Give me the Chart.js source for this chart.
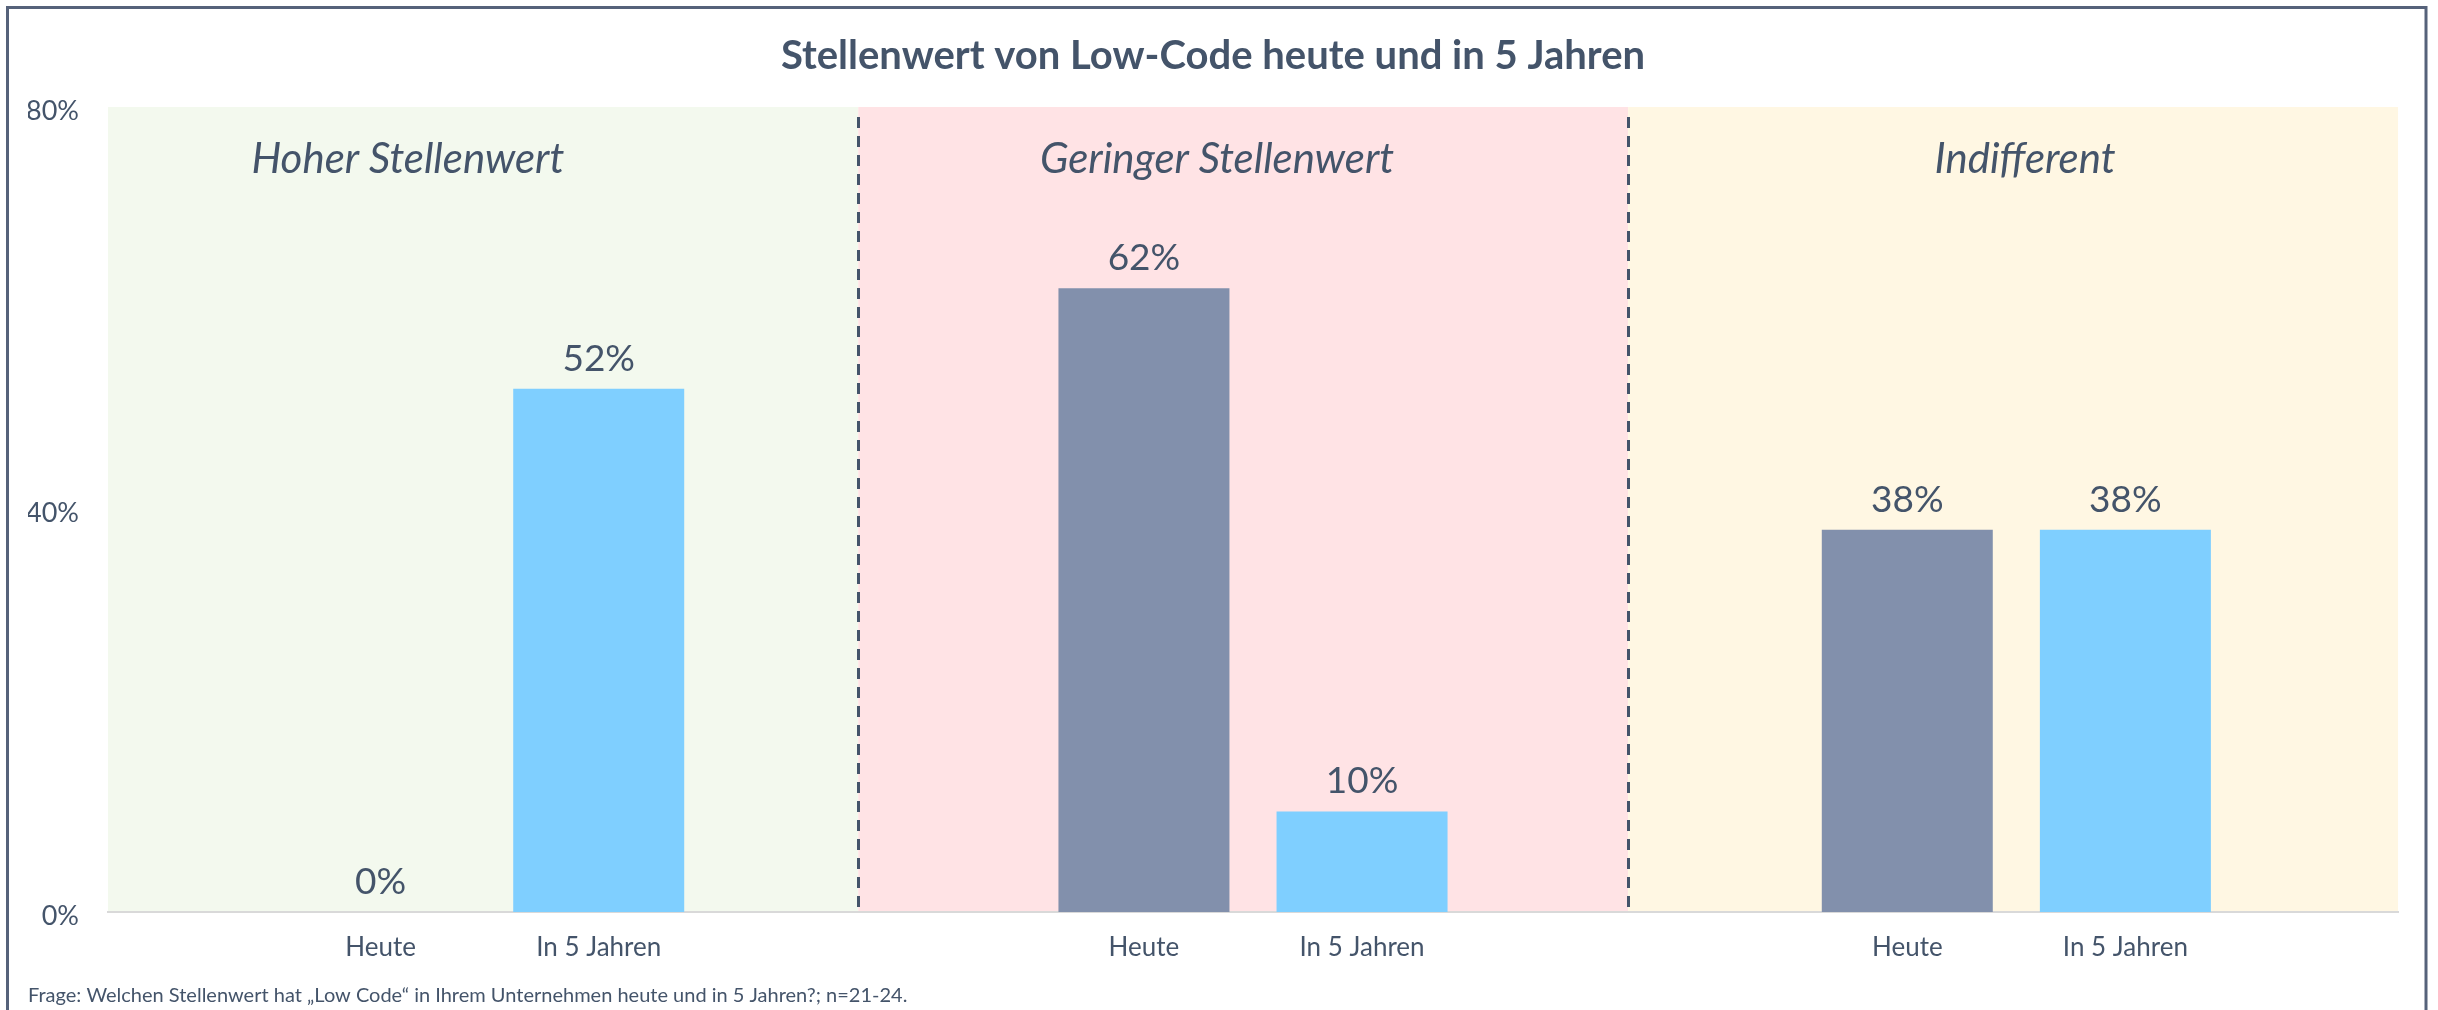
<!DOCTYPE html>
<html>
<head>
<meta charset="utf-8">
<script src="https://cdn.jsdelivr.net/npm/chart.js@4.4.1/dist/chart.umd.min.js"></script>
<style>
  html, body { margin: 0; padding: 0; background: #ffffff; }
  #wrap { width: 2438px; height: 1010px; position: relative; }
</style>
</head>
<body>
<div id="wrap"><canvas id="c" width="2438" height="1010"></canvas></div>
<script>
// ---- Data ----
const groups = ['Hoher Stellenwert', 'Geringer Stellenwert', 'Indifferent'];
const seriesNames = ['Heute', 'In 5 Jahren'];
const heute = [0, 62, 38];
const in5Jahren = [52, 10, 38];
const yTickValues = [0, 40, 80];
const chartTitle = 'Stellenwert von Low-Code heute und in 5 Jahren';
const footnote = 'Frage: Welchen Stellenwert hat \u201ELow Code\u201C in Ihrem Unternehmen heute und in 5 Jahren?; n=21-24.';

// ---- Layout (slots on the category axis) ----
const SLOTS_PER_GROUP = 7;
const SLOT_HEUTE = 2, SLOT_IN5 = 4;
const totalSlots = groups.length * SLOTS_PER_GROUP;
const bandEdges = [-0.5, 6.38, 13.44, totalSlots - 0.5];
const groupLabelPos = [2.25, 9.67, 17.08];
const bandColors = ['#F3F9EE', '#FFE3E5', '#FFF7E3'];
const TEXT = '#44546A';
const FONT = 'Lato';

const labels = new Array(totalSlots).fill('');
const dataHeute = new Array(totalSlots).fill(null);
const dataIn5 = new Array(totalSlots).fill(null);
groups.forEach((g, i) => {
  const s = i * SLOTS_PER_GROUP;
  labels[s + SLOT_HEUTE] = seriesNames[0];
  labels[s + SLOT_IN5] = seriesNames[1];
  dataHeute[s + SLOT_HEUTE] = heute[i];
  dataIn5[s + SLOT_IN5] = in5Jahren[i];
});

const decorPlugin = {
  id: 'decor',
  beforeDraw(chart) {
    const { ctx, chartArea: ca, scales: { x } } = chart;
    ctx.save();
    ctx.fillStyle = '#ffffff';
    ctx.fillRect(0, 0, chart.width, chart.height);
    // bands
    for (let i = 0; i < groups.length; i++) {
      const x0 = x.getPixelForValue(bandEdges[i]);
      const x1 = x.getPixelForValue(bandEdges[i + 1]);
      ctx.fillStyle = bandColors[i];
      ctx.fillRect(x0, ca.top, x1 - x0, ca.bottom - ca.top);
    }
    // dashed dividers
    ctx.strokeStyle = TEXT;
    ctx.lineWidth = 3;
    ctx.setLineDash([11, 8]);
    for (let i = 1; i < groups.length; i++) {
      const px = Math.round(x.getPixelForValue(bandEdges[i])) + 0.5;
      ctx.beginPath();
      ctx.moveTo(px, ca.top + 10);
      ctx.lineTo(px, ca.bottom);
      ctx.stroke();
    }
    ctx.setLineDash([]);
    // outer frame
    ctx.strokeStyle = '#56627A';
    ctx.lineWidth = 3;
    ctx.strokeRect(7.5, 7.5, 2426 - 7.5, chart.height + 20);
    ctx.restore();
  },
  afterDatasetsDraw(chart) {
    const { ctx, chartArea: ca, scales: { x } } = chart;
    ctx.save();
    ctx.fillStyle = TEXT;
    ctx.textAlign = 'center';
    ctx.textBaseline = 'middle';
    // value labels
    ctx.font = '37px ' + FONT;
    chart.data.datasets.forEach((ds, di) => {
      const meta = chart.getDatasetMeta(di);
      meta.data.forEach((bar, idx) => {
        const v = ds.data[idx];
        if (v === null || v === undefined) return;
        ctx.fillText(v + '%', bar.x, bar.y - 30);
      });
    });
    // group labels
    ctx.font = 'italic 42px ' + FONT;
    groups.forEach((g, i) => {
      ctx.fillText(g, x.getPixelForValue(groupLabelPos[i]), ca.top + 52);
    });
    ctx.restore();
  }
};

new Chart(document.getElementById('c'), {
  type: 'bar',
  data: {
    labels: labels,
    datasets: [
      { label: seriesNames[0], data: dataHeute, backgroundColor: '#8290AC', grouped: false, barThickness: 171, skipNull: true, inflateAmount: 0, borderWidth: 0 },
      { label: seriesNames[1], data: dataIn5, backgroundColor: '#7FCFFF', grouped: false, barThickness: 171, skipNull: true, inflateAmount: 0, borderWidth: 0 }
    ]
  },
  options: {
    responsive: false,
    animation: false,
    layout: { padding: { left: 28, right: 40, top: 0, bottom: 0 } },
    plugins: {
      legend: { display: false },
      tooltip: { enabled: false },
      title: {
        display: true,
        text: chartTitle,
        color: TEXT,
        font: { family: FONT, size: 40, weight: 'bold' },
        padding: { top: 32, bottom: 27 }
      },
      subtitle: {
        display: true,
        position: 'bottom',
        align: 'start',
        text: footnote,
        color: TEXT,
        font: { family: FONT, size: 20 },
        padding: { top: 0, bottom: 2 }
      }
    },
    scales: {
      x: {
        z: 1,
        grid: { display: false, drawTicks: false },
        border: { display: true, color: '#D9D9D9', width: 2 },
        ticks: {
          autoSkip: false, maxRotation: 0, minRotation: 0,
          color: TEXT, padding: 20,
          font: { family: FONT, size: 26 }
        },
        afterFit(s) { s.height = 72; }
      },
      y: {
        min: 0, max: 80,
        grid: { display: false, drawTicks: false },
        border: { display: false },
        afterBuildTicks(s) { s.ticks = yTickValues.map(v => ({ value: v })); },
        ticks: {
          color: TEXT, padding: 29, labelOffset: 4,
          font: { family: FONT, size: 27 },
          callback: (v) => v + '%'
        },
        afterFit(s) { s.width = 80; }
      }
    }
  },
  plugins: [decorPlugin]
});
</script>
</body>
</html>
